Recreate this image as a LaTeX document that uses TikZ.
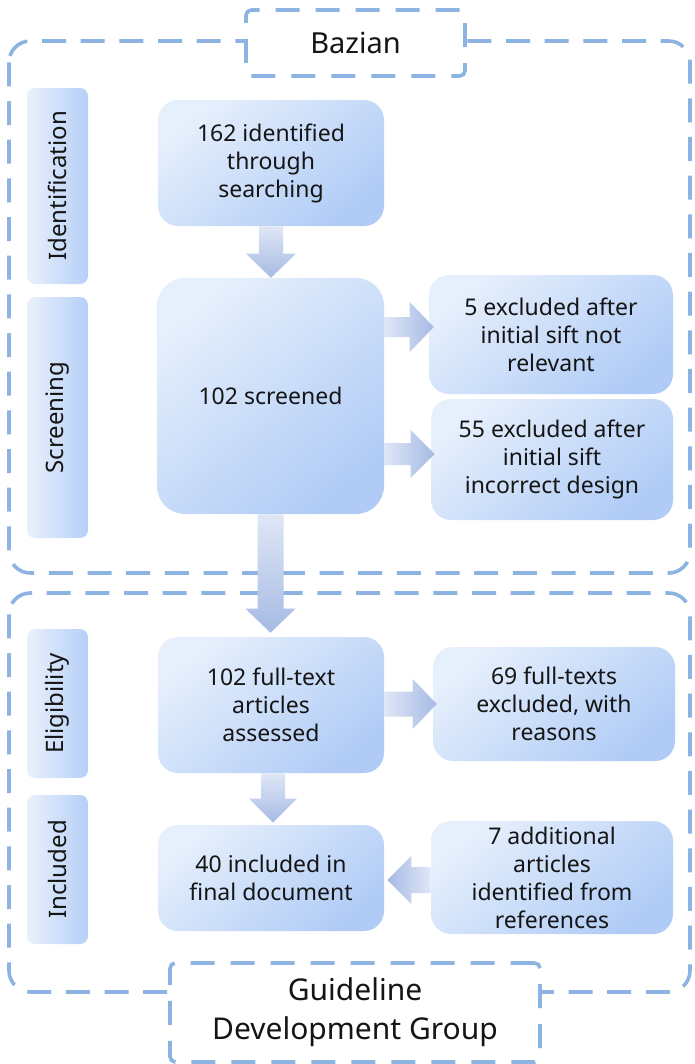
\documentclass[tikz,border=0pt]{standalone}
\usepackage{fontspec}
\setmainfont{Noto Sans}
\usetikzlibrary{calc}
\definecolor{boxL}{HTML}{E6EFFC}
\definecolor{boxD}{HTML}{B0CCF6}
\definecolor{barL}{HTML}{EAF1FC}
\definecolor{barD}{HTML}{B5CFF6}
\definecolor{dashc}{HTML}{8DB3E2}
\definecolor{arrL}{HTML}{DFE7F6}
\definecolor{arrD}{HTML}{A6BAE4}
\definecolor{txt}{HTML}{151515}
\newcommand\arrdown[4]{%
  \shade[top color=arrL,bottom color=arrD]
    ($(#1)+(-#3,0)$) -- ($(#1)+(#3,0)$) -- ($(#2)+(#3,-24)$) -- ($(#2)+(#4,-24)$)
    -- (#2) -- ($(#2)+(-#4,-24)$) -- ($(#2)+(-#3,-24)$) -- cycle;}
\newcommand\arrright[4]{%
  \shade[left color=arrL,right color=arrD]
    ($(#1)+(0,-#3)$) -- ($(#2)+(-24,-#3)$) -- ($(#2)+(-24,-#4)$)
    -- (#2) -- ($(#2)+(-24,#4)$) -- ($(#2)+(-24,#3)$) -- ($(#1)+(0,#3)$) -- cycle;}
\newcommand\arrleft[4]{%
  \shade[left color=arrD,right color=arrL]
    ($(#1)+(0,-#3)$) -- ($(#2)+(24,-#3)$) -- ($(#2)+(24,-#4)$)
    -- (#2) -- ($(#2)+(24,#4)$) -- ($(#2)+(24,#3)$) -- ($(#1)+(0,#3)$) -- cycle;}
\begin{document}
\begin{tikzpicture}[x=0.75pt,y=-0.75pt,
  sz/.style 2 args={minimum width=#1*0.75pt, minimum height=#2*0.75pt},
  region/.style={draw=dashc, line width=2.7pt, dash pattern=on 18pt off 11pt, rounded corners=16pt},
  labelbox/.style={draw=dashc, fill=white, line width=2.7pt, dash pattern=on 18pt off 12pt, rounded corners=4pt, inner sep=0pt, text=txt},
  box/.style={rectangle, rounded corners=15pt, inner sep=0pt, top color=boxL, bottom color=boxD, shading angle=40, align=center, text=txt, font=\fontsize{17.25pt}{21pt}\selectfont},
  bigbox/.style={box, rounded corners=21pt},
  bar/.style={rectangle, rounded corners=6pt, inner sep=0pt, left color=barL, right color=barD},
  barlabel/.style={rotate=90, text=txt, font=\fontsize{18pt}{20pt}\selectfont},
]
\useasboundingbox (0,0) rectangle (694,1064);
% regions
\draw[region] (9,41) rectangle (690,573);
\draw[region] (9,593) rectangle (690,992);
\node[labelbox, sz={219}{66}, font=\fontsize{21.75pt}{26pt}\selectfont] (baz) at (355.5,43) {Bazian};
\node[labelbox, sz={370}{99}, align=center, font=\fontsize{22.5pt}{29pt}\selectfont] (gdg) at (355,1012.5) {Guideline\\Development Group};
% side bars
\node[bar, sz={61}{196}] (idbar) at (57.5,186) {};
\node[barlabel] (idlab) at (idbar.center) {Identification};
\node[bar, sz={61}{241}] (scbar) at (57.5,417.5) {};
\node[barlabel] (sclab) at (scbar.center) {Screening};
\node[bar, sz={61}{149}] (elbar) at (57.5,703.5) {};
\node[barlabel] (ellab) at (elbar.center) {Eligibility};
\node[bar, sz={61}{149}] (inbar) at (57.5,869.5) {};
\node[barlabel] (inlab) at (inbar.center) {Included};
% boxes
\node[box, sz={226}{126}] (n162) at (271,163) {162 identified\\through\\searching};
\node[bigbox, sz={227}{236}] (n102s) at (270.5,396) {102 screened};
\node[box, sz={244}{119}] (n5) at (551,334.5) {5 excluded after\\initial sift not\\relevant};
\node[box, sz={242}{121}] (n55) at (552,459.5) {55 excluded after\\initial sift\\incorrect design};
\node[box, sz={226}{136}] (n102f) at (271,705) {102 full-text\\articles\\assessed};
\node[box, sz={242}{114}] (n69) at (554,704) {69 full-texts\\excluded, with\\reasons};
\node[box, sz={226}{106}] (n40) at (271,878) {40 included in\\final document};
\node[box, sz={242}{113}] (n7) at (552,877.5) {7 additional\\articles\\identified from\\references};
% connectors
\coordinate (a1s) at (n162.south);
\coordinate (a1t) at (n102s.north -| a1s);
\arrdown{a1s}{a1t}{12}{25}
\coordinate (a2s) at (n102s.east |- 0,327);
\coordinate (a2t) at ($(n5.west |- a2s)+(5,0)$);
\arrright{a2s}{a2t}{10}{25}
\coordinate (a3s) at (n102s.east |- 0,454);
\coordinate (a3t) at ($(n55.west |- a3s)+(4,0)$);
\arrright{a3s}{a3t}{11}{24}
\coordinate (a4s) at (n102s.south);
\coordinate (a4t) at ($(n102f.north -| a4s)+(0,-4)$);
\arrdown{a4s}{a4t}{13}{25}
\coordinate (a5s) at (n102f.east |- n69.west);
\coordinate (a5t) at ($(n69.west)+(4,0)$);
\arrright{a5s}{a5t}{12.5}{25}
\coordinate (a6s) at ($(n102f.south)+(2,0)$);
\coordinate (a6t) at ($(n40.north -| a6s)+(0,-2)$);
\arrdown{a6s}{a6t}{12}{24}
\coordinate (a7s) at (n7.west |- 0,880);
\coordinate (a7t) at ($(n40.east |- a7s)+(3,0)$);
\arrleft{a7s}{a7t}{13}{24}
\end{tikzpicture}
\end{document}
